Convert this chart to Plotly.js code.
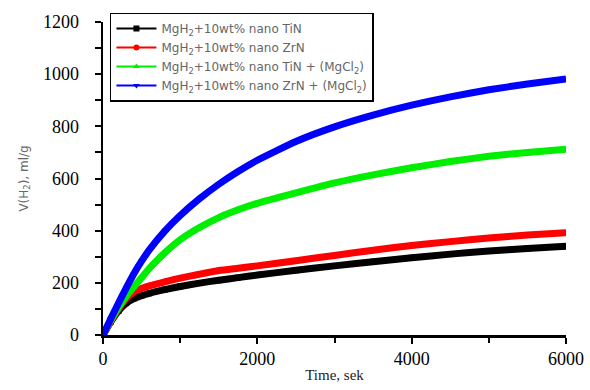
<!DOCTYPE html>
<html>
<head>
<meta charset="utf-8">
<script src="https://cdn.plot.ly/plotly-3.0.1.min.js"></script>
<style>html,body{margin:0;padding:0;background:#fff;}#chart{width:590px;height:390px;}</style>
</head>
<body>
<div id="chart"></div>
<script>
// time, s
const time = [0, 100, 200, 300, 400, 500, 600, 800, 1000, 1250, 1500, 1750, 2000, 2500, 3000, 3500, 4000, 4500, 5000, 5500, 6000];
// V(H2), ml/g
const tinSeries   = [0, 50, 92, 122, 140, 151, 160, 174, 186, 199, 210, 220, 230, 248, 265, 281, 296, 310, 322, 332, 340];
const zrnSeries   = [0, 52, 100, 140, 165, 178, 188, 204, 218, 233, 247, 256, 265, 285, 305, 325, 343, 358, 372, 383, 392];
const tinMgSeries = [0, 55, 105, 148, 185, 220, 255, 315, 365, 412, 450, 480, 505, 545, 583, 614, 641, 665, 685, 700, 712];
const zrnMgSeries = [0, 62, 122, 180, 235, 283, 326, 398, 458, 522, 578, 627, 670, 742, 798, 843, 881, 913, 940, 962, 982];

const seriesNames = [
  'MgH<sub>2</sub>+10wt% nano TiN',
  'MgH<sub>2</sub>+10wt% nano ZrN',
  'MgH<sub>2</sub>+10wt% nano TiN + (MgCl<sub>2</sub>)',
  'MgH<sub>2</sub>+10wt% nano ZrN + (MgCl<sub>2</sub>)'
];
const seriesValues = [tinSeries, zrnSeries, tinMgSeries, zrnMgSeries];
const colors = ['#000000', '#ff0000', '#00ee00', '#0000ff'];
const symbols = ['square', 'circle', 'triangle-up', 'triangle-down'];

const traces = [];
// legend traces (thin line + markers)
seriesValues.forEach((v, i) => {
  traces.push({
    x: time, y: v, name: seriesNames[i], type: 'scatter', mode: 'lines+markers',
    line: {color: colors[i], width: 2},
    marker: {color: colors[i], symbol: symbols[i], size: 6},
    showlegend: true, hoverinfo: 'skip'
  });
});
// thick curves
seriesValues.forEach((v, i) => {
  traces.push({
    x: time, y: v, name: seriesNames[i], type: 'scatter', mode: 'lines',
    line: {color: colors[i], width: 7, shape: 'spline', smoothing: 0.5},
    showlegend: false
  });
});

const layout = {
  width: 590, height: 390,
  margin: {l: 103, r: 24, t: 22, b: 55},
  paper_bgcolor: '#fff', plot_bgcolor: '#fff',
  showlegend: true,
  legend: {
    x: 0.015, y: 1.03, xanchor: 'left', yanchor: 'top',
    bgcolor: '#fff', bordercolor: '#000', borderwidth: 1.5,
    font: {family: 'DejaVu Sans, Arial, sans-serif', size: 12, color: '#666'},
    itemwidth: 40, tracegroupgap: 0
  },
  xaxis: {
    range: [0, 6000], tickvals: [0, 2000, 4000, 6000], ticktext: ['0', '2000', '4000', '6000'],
    ticks: 'outside', ticklen: 6, tickwidth: 2, tickcolor: '#000',
    minor: {tickvals: [1000, 3000, 5000], ticks: 'outside', ticklen: 5, tickwidth: 2, tickcolor: '#000'},
    showline: true, linecolor: '#000', linewidth: 2.5, showgrid: false, zeroline: false,
    tickfont: {family: 'Liberation Serif, Times New Roman, serif', size: 18, color: '#000'},
    title: {text: 'Time, sek', font: {family: 'Liberation Serif, Times New Roman, serif', size: 15, color: '#222'}, standoff: 2}
  },
  yaxis: {
    range: [0, 1200], tickvals: [0, 200, 400, 600, 800, 1000, 1200],
    ticks: 'outside', ticklen: 6, tickwidth: 2, tickcolor: '#000',
    minor: {tickvals: [100, 300, 500, 700, 900, 1100], ticks: 'outside', ticklen: 6, tickwidth: 2, tickcolor: '#000'},
    showline: true, linecolor: '#000', linewidth: 2.5, showgrid: false, zeroline: false,
    tickfont: {family: 'Liberation Serif, Times New Roman, serif', size: 18, color: '#000'},
    ticklabelstandoff: 12,
    title: {text: 'V(H<sub>2</sub>), ml/g', font: {family: 'DejaVu Sans, Arial, sans-serif', size: 12, color: '#666'}, standoff: 12}
  }
};

Plotly.newPlot('chart', traces, layout, {displayModeBar: false, staticPlot: true});
</script>
</body>
</html>
